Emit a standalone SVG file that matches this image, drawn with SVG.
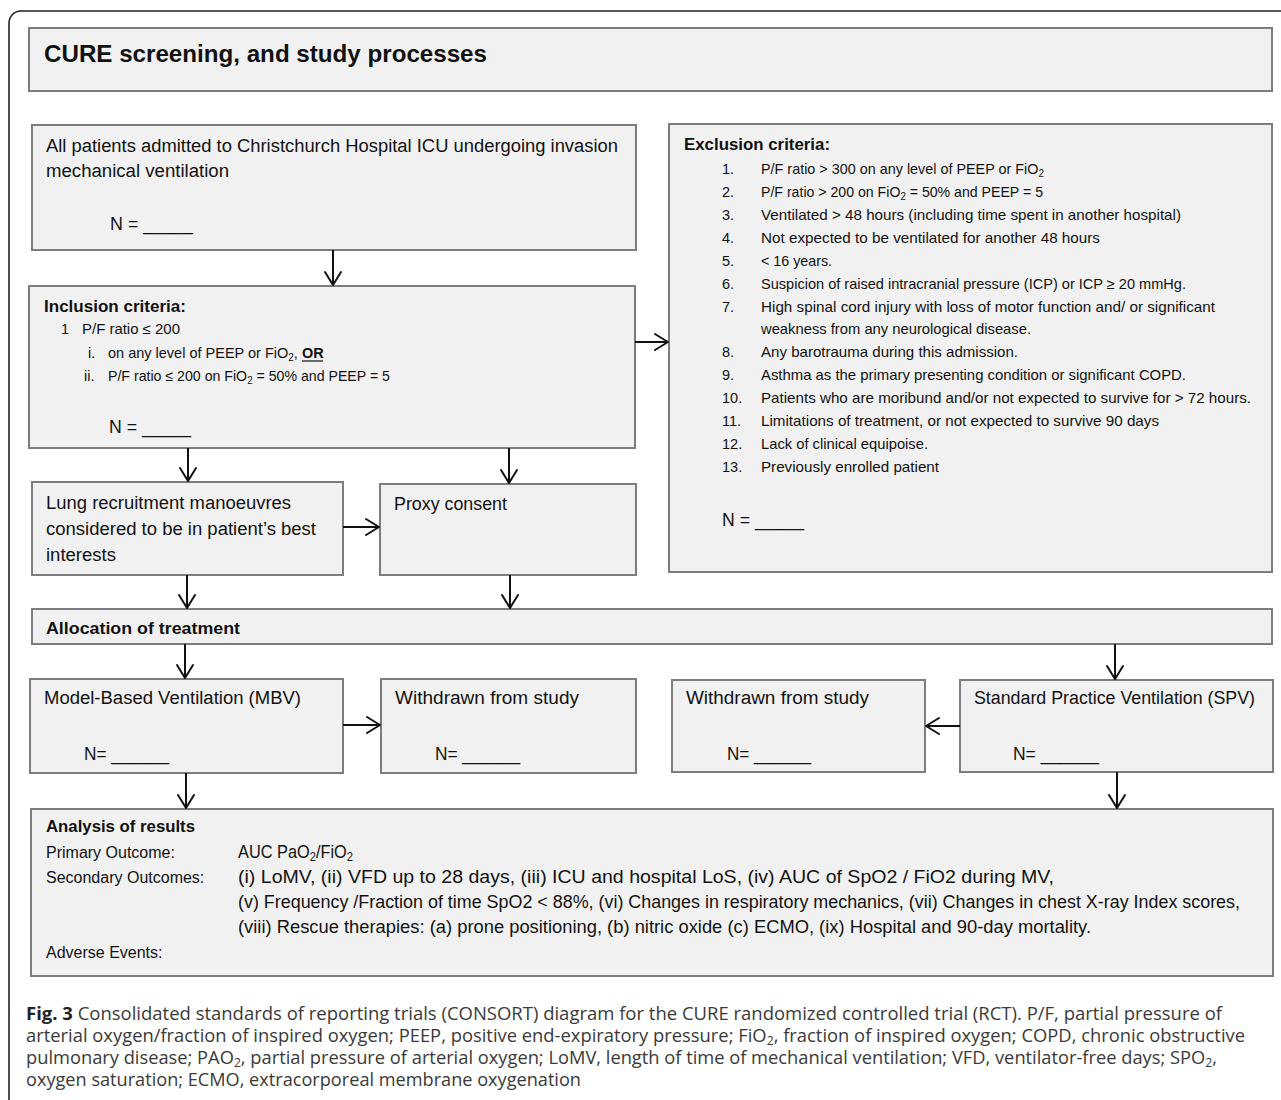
<svg xmlns="http://www.w3.org/2000/svg" width="1281" height="1100" viewBox="0 0 1281 1100">
<style>
.box{fill:#f1f1f1;stroke:#7d7d7d;stroke-width:2}
.t{font-family:"Liberation Sans",Arial,sans-serif;fill:#111}
.m{font-size:18px}
.s{font-size:14.5px}
.h{font-size:17px;font-weight:bold}
.a{font-size:17.5px}
.l{font-size:16px}
.cap{font-family:"Open Sans","Liberation Sans",sans-serif;font-size:18px;fill:#3a3a3a}
.con{stroke:#111;stroke-width:2;fill:none;marker-end:url(#ah)}
</style>
<defs>
<marker id="ah" markerUnits="userSpaceOnUse" markerWidth="30" markerHeight="30" viewBox="-15 -15 30 30" refX="0" refY="0" orient="auto">
<path d="M-13,-8 L0,0 L-13,8" fill="none" stroke="#111" stroke-width="2" stroke-linejoin="round" stroke-linecap="round"/>
</marker>
</defs>
<rect x="0" y="0" width="1281" height="1100" fill="#ffffff"/>
<rect x="9" y="11" width="1300" height="1110" rx="12" fill="none" stroke="#222" stroke-width="1.6"/>

<g id="title">
<rect class="box" x="29" y="28" width="1243" height="63"/>
<text class="t" x="44" y="62" font-size="24" font-weight="bold" textLength="443" lengthAdjust="spacingAndGlyphs">CURE screening, and study processes</text>
</g>

<g id="screened">
<rect class="box" x="32" y="125" width="604" height="125"/>
<text class="t m" x="46" y="152" textLength="572" lengthAdjust="spacingAndGlyphs">All patients admitted to Christchurch Hospital ICU undergoing invasion</text>
<text class="t m" x="46" y="177" textLength="183" lengthAdjust="spacingAndGlyphs">mechanical ventilation</text>
<text class="t m" x="110" y="230" textLength="83" lengthAdjust="spacingAndGlyphs">N = _____</text>
</g>

<g id="inclusion">
<rect class="box" x="29" y="286" width="606" height="162"/>
<text class="t h" x="44" y="312" textLength="142" lengthAdjust="spacingAndGlyphs">Inclusion criteria:</text>
<text class="t s" x="61" y="334">1</text>
<text class="t s" x="82" y="334" textLength="98" lengthAdjust="spacingAndGlyphs">P/F ratio ≤ 200</text>
<text class="t s" x="88" y="358">i.</text>
<text class="t s" x="108" y="358">on any level of PEEP or FiO<tspan font-size="10" dy="3">2</tspan><tspan dy="-3">,</tspan></text>
<text class="t s" x="302" y="358" font-weight="bold">OR</text>
<line x1="302" y1="361" x2="323" y2="361" stroke="#111" stroke-width="1.2"/>
<text class="t s" x="84" y="381">ii.</text>
<text class="t s" x="108" y="381" textLength="282" lengthAdjust="spacingAndGlyphs">P/F ratio ≤ 200 on FiO<tspan font-size="10" dy="3">2</tspan><tspan dy="-3"> = 50% and PEEP = 5</tspan></text>
<text class="t m" x="109" y="433" textLength="82" lengthAdjust="spacingAndGlyphs">N = _____</text>
</g>

<g id="exclusion">
<rect class="box" x="669" y="124" width="603" height="448"/>
<text class="t h" x="684" y="150" textLength="146" lengthAdjust="spacingAndGlyphs">Exclusion criteria:</text>
<g class="t s">
<text x="722" y="174">1.</text>
<text x="761" y="174" textLength="283" lengthAdjust="spacingAndGlyphs">P/F ratio &gt; 300 on any level of PEEP or FiO<tspan font-size="10" dy="3">2</tspan></text>
<text x="722" y="197">2.</text>
<text x="761" y="197" textLength="282" lengthAdjust="spacingAndGlyphs">P/F ratio &gt; 200 on FiO<tspan font-size="10" dy="3">2</tspan><tspan dy="-3"> = 50% and PEEP = 5</tspan></text>
<text x="722" y="220">3.</text>
<text x="761" y="220" textLength="420" lengthAdjust="spacingAndGlyphs">Ventilated &gt; 48 hours (including time spent in another hospital)</text>
<text x="722" y="243">4.</text>
<text x="761" y="243" textLength="339" lengthAdjust="spacingAndGlyphs">Not expected to be ventilated for another 48 hours</text>
<text x="722" y="266">5.</text>
<text x="761" y="266" textLength="71" lengthAdjust="spacingAndGlyphs">&lt; 16 years.</text>
<text x="722" y="289">6.</text>
<text x="761" y="289" textLength="425" lengthAdjust="spacingAndGlyphs">Suspicion of raised intracranial pressure (ICP) or ICP ≥ 20 mmHg.</text>
<text x="722" y="312">7.</text>
<text x="761" y="312" textLength="454" lengthAdjust="spacingAndGlyphs">High spinal cord injury with loss of motor function and/ or significant</text>
<text x="761" y="334" textLength="270" lengthAdjust="spacingAndGlyphs">weakness from any neurological disease.</text>
<text x="722" y="357">8.</text>
<text x="761" y="357" textLength="257" lengthAdjust="spacingAndGlyphs">Any barotrauma during this admission.</text>
<text x="722" y="380">9.</text>
<text x="761" y="380" textLength="425" lengthAdjust="spacingAndGlyphs">Asthma as the primary presenting condition or significant COPD.</text>
<text x="722" y="403">10.</text>
<text x="761" y="403" textLength="490" lengthAdjust="spacingAndGlyphs">Patients who are moribund and/or not expected to survive for &gt; 72 hours.</text>
<text x="722" y="426">11.</text>
<text x="761" y="426" textLength="398" lengthAdjust="spacingAndGlyphs">Limitations of treatment, or not expected to survive 90 days</text>
<text x="722" y="449">12.</text>
<text x="761" y="449" textLength="167" lengthAdjust="spacingAndGlyphs">Lack of clinical equipoise.</text>
<text x="722" y="472">13.</text>
<text x="761" y="472" textLength="178" lengthAdjust="spacingAndGlyphs">Previously enrolled patient</text>
</g>
<text class="t m" x="722" y="526" textLength="82" lengthAdjust="spacingAndGlyphs">N = _____</text>
</g>

<g id="recruitment">
<rect class="box" x="32" y="482" width="311" height="93"/>
<text class="t m" x="46" y="509" textLength="245" lengthAdjust="spacingAndGlyphs">Lung recruitment manoeuvres</text>
<text class="t m" x="46" y="535" textLength="270" lengthAdjust="spacingAndGlyphs">considered to be in patient’s best</text>
<text class="t m" x="46" y="561" textLength="70" lengthAdjust="spacingAndGlyphs">interests</text>
</g>

<g id="proxy">
<rect class="box" x="380" y="484" width="256" height="91"/>
<text class="t m" x="394" y="510" textLength="113" lengthAdjust="spacingAndGlyphs">Proxy consent</text>
</g>

<g id="allocation">
<rect class="box" x="32" y="609" width="1240" height="35"/>
<text class="t h" x="46" y="634" textLength="194" lengthAdjust="spacingAndGlyphs">Allocation of treatment</text>
</g>

<g id="mbv">
<rect class="box" x="30" y="679" width="313" height="94"/>
<text class="t m" x="44" y="704" textLength="257" lengthAdjust="spacingAndGlyphs">Model-Based Ventilation (MBV)</text>
<text class="t m" x="84" y="760" textLength="85" lengthAdjust="spacingAndGlyphs">N= ______</text>
</g>

<g id="withdrawn-mbv">
<rect class="box" x="381" y="679" width="255" height="94"/>
<text class="t m" x="395" y="704" textLength="184" lengthAdjust="spacingAndGlyphs">Withdrawn from study</text>
<text class="t m" x="435" y="760" textLength="85" lengthAdjust="spacingAndGlyphs">N= ______</text>
</g>

<g id="withdrawn-spv">
<rect class="box" x="672" y="680" width="253" height="92"/>
<text class="t m" x="686" y="704" textLength="183" lengthAdjust="spacingAndGlyphs">Withdrawn from study</text>
<text class="t m" x="727" y="760" textLength="84" lengthAdjust="spacingAndGlyphs">N= ______</text>
</g>

<g id="spv">
<rect class="box" x="960" y="680" width="313" height="92"/>
<text class="t m" x="974" y="704" textLength="281" lengthAdjust="spacingAndGlyphs">Standard Practice Ventilation (SPV)</text>
<text class="t m" x="1013" y="760" textLength="86" lengthAdjust="spacingAndGlyphs">N= ______</text>
</g>

<g id="analysis">
<rect class="box" x="31" y="809" width="1242" height="167"/>
<text class="t h" x="46" y="832" textLength="149" lengthAdjust="spacingAndGlyphs">Analysis of results</text>
<text class="t l" x="46" y="858">Primary Outcome:</text>
<text class="t a" x="238" y="858" textLength="115" lengthAdjust="spacingAndGlyphs">AUC PaO<tspan font-size="12" dy="3">2</tspan><tspan dy="-3">/FiO</tspan><tspan font-size="12" dy="3">2</tspan></text>
<text class="t l" x="46" y="883">Secondary Outcomes:</text>
<text class="t a" x="238" y="883" textLength="816" lengthAdjust="spacingAndGlyphs">(i) LoMV, (ii) VFD up to 28 days, (iii) ICU and hospital LoS, (iv) AUC of SpO2 / FiO2 during MV,</text>
<text class="t a" x="238" y="908" textLength="1002" lengthAdjust="spacingAndGlyphs">(v) Frequency /Fraction of time SpO2 &lt; 88%, (vi) Changes in respiratory mechanics, (vii) Changes in chest X-ray Index scores,</text>
<text class="t a" x="238" y="933" textLength="853" lengthAdjust="spacingAndGlyphs">(viii) Rescue therapies: (a) prone positioning, (b) nitric oxide (c) ECMO, (ix) Hospital and 90-day mortality.</text>
<text class="t l" x="46" y="958">Adverse Events:</text>
</g>

<g id="connectors">
<path class="con" d="M333,250 V285"/>
<path class="con" d="M635,342 H668"/>
<path class="con" d="M188,448 V481"/>
<path class="con" d="M509,448 V483"/>
<path class="con" d="M343,527 H379"/>
<path class="con" d="M187,575 V608"/>
<path class="con" d="M510,575 V608"/>
<path class="con" d="M185,644 V678"/>
<path class="con" d="M1115,644 V679"/>
<path class="con" d="M343,725 H380"/>
<path class="con" d="M960,726 H926"/>
<path class="con" d="M186,773 V808"/>
<path class="con" d="M1117,772 V808"/>
</g>

<g id="caption">
<text class="cap" x="26" y="1020" textLength="1196" lengthAdjust="spacingAndGlyphs"><tspan font-weight="bold" fill="#222">Fig. 3</tspan> Consolidated standards of reporting trials (CONSORT) diagram for the CURE randomized controlled trial (RCT). P/F, partial pressure of</text>
<text class="cap" x="26" y="1042" textLength="1219" lengthAdjust="spacingAndGlyphs">arterial oxygen/fraction of inspired oxygen; PEEP, positive end-expiratory pressure; FiO<tspan font-size="12" dy="3">2</tspan><tspan dy="-3">, fraction of inspired oxygen; COPD, chronic obstructive</tspan></text>
<text class="cap" x="26" y="1064" textLength="1191" lengthAdjust="spacingAndGlyphs">pulmonary disease; PAO<tspan font-size="12" dy="3">2</tspan><tspan dy="-3">, partial pressure of arterial oxygen; LoMV, length of time of mechanical ventilation; VFD, ventilator-free days; SPO</tspan><tspan font-size="12" dy="3">2</tspan><tspan dy="-3">,</tspan></text>
<text class="cap" x="26" y="1086" textLength="555" lengthAdjust="spacingAndGlyphs">oxygen saturation; ECMO, extracorporeal membrane oxygenation</text>
</g>
</svg>
